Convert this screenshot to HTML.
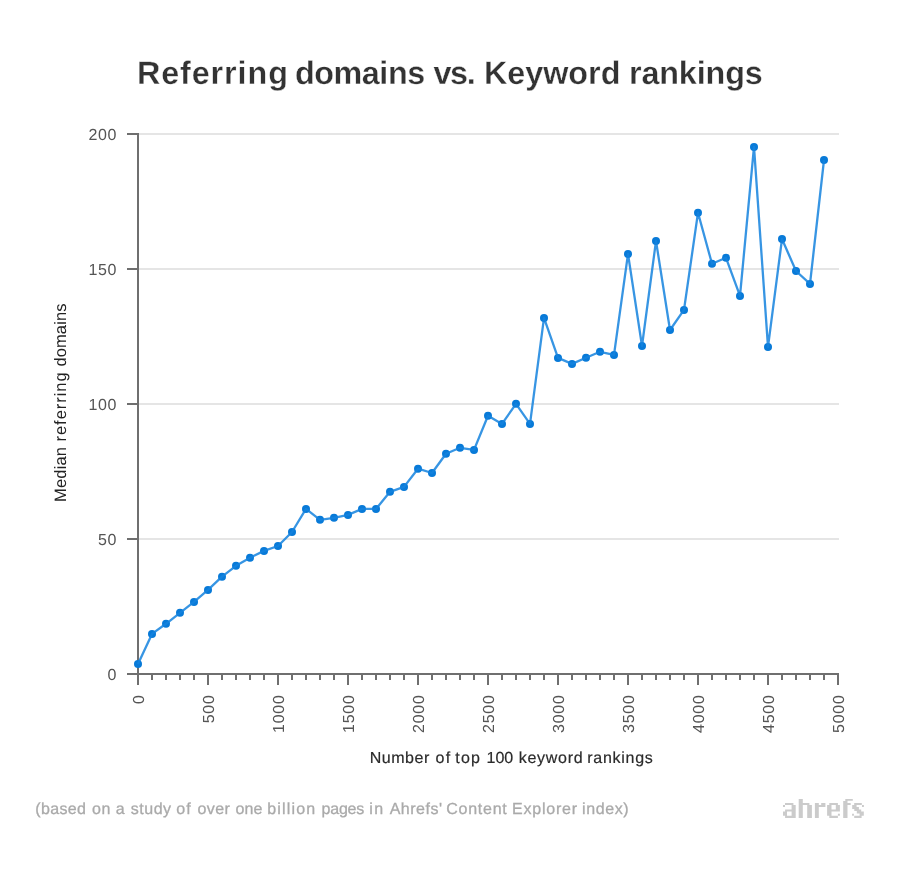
<!DOCTYPE html>
<html><head><meta charset="utf-8">
<style>
html,body{margin:0;padding:0;background:#fff;}
body{width:900px;height:878px;overflow:hidden;}
svg{display:block;will-change:transform;}
text{font-family:"Liberation Sans",sans-serif;text-rendering:geometricPrecision;}
</style></head><body>
<svg width="900" height="878" viewBox="0 0 900 878">
<rect width="900" height="878" fill="#fff"/>
<text y="84" font-size="32.3" font-weight="bold" fill="#333" stroke="#fff" stroke-width="0.3"><tspan x="136.9" letter-spacing="0.925">Referring</tspan><tspan x="294.9" letter-spacing="-0.417">domains</tspan><tspan x="433.4" letter-spacing="-1.3">vs.</tspan><tspan x="484" letter-spacing="0">Keyword</tspan><tspan x="629" letter-spacing="-0.129">rankings</tspan></text>
<g stroke="#e5e5e5" stroke-width="2">
<line x1="139" y1="134" x2="839" y2="134"/>
<line x1="139" y1="269" x2="839" y2="269"/>
<line x1="139" y1="404" x2="839" y2="404"/>
<line x1="139" y1="539" x2="839" y2="539"/>
</g>
<g stroke="#6f6f6f" stroke-width="2" fill="none">
<line x1="138" y1="133" x2="138" y2="675"/>
<line x1="127" y1="674" x2="839" y2="674"/>
<line x1="127" y1="134" x2="138" y2="134"/>
<line x1="127" y1="269" x2="138" y2="269"/>
<line x1="127" y1="404" x2="138" y2="404"/>
<line x1="127" y1="539" x2="138" y2="539"/>
<line x1="138" y1="674" x2="138" y2="685"/>
<line x1="152" y1="674" x2="152" y2="680"/>
<line x1="166" y1="674" x2="166" y2="680"/>
<line x1="180" y1="674" x2="180" y2="680"/>
<line x1="194" y1="674" x2="194" y2="680"/>
<line x1="208" y1="674" x2="208" y2="685"/>
<line x1="222" y1="674" x2="222" y2="680"/>
<line x1="236" y1="674" x2="236" y2="680"/>
<line x1="250" y1="674" x2="250" y2="680"/>
<line x1="264" y1="674" x2="264" y2="680"/>
<line x1="278" y1="674" x2="278" y2="685"/>
<line x1="292" y1="674" x2="292" y2="680"/>
<line x1="306" y1="674" x2="306" y2="680"/>
<line x1="320" y1="674" x2="320" y2="680"/>
<line x1="334" y1="674" x2="334" y2="680"/>
<line x1="348" y1="674" x2="348" y2="685"/>
<line x1="362" y1="674" x2="362" y2="680"/>
<line x1="376" y1="674" x2="376" y2="680"/>
<line x1="390" y1="674" x2="390" y2="680"/>
<line x1="404" y1="674" x2="404" y2="680"/>
<line x1="418" y1="674" x2="418" y2="685"/>
<line x1="432" y1="674" x2="432" y2="680"/>
<line x1="446" y1="674" x2="446" y2="680"/>
<line x1="460" y1="674" x2="460" y2="680"/>
<line x1="474" y1="674" x2="474" y2="680"/>
<line x1="488" y1="674" x2="488" y2="685"/>
<line x1="502" y1="674" x2="502" y2="680"/>
<line x1="516" y1="674" x2="516" y2="680"/>
<line x1="530" y1="674" x2="530" y2="680"/>
<line x1="544" y1="674" x2="544" y2="680"/>
<line x1="558" y1="674" x2="558" y2="685"/>
<line x1="572" y1="674" x2="572" y2="680"/>
<line x1="586" y1="674" x2="586" y2="680"/>
<line x1="600" y1="674" x2="600" y2="680"/>
<line x1="614" y1="674" x2="614" y2="680"/>
<line x1="628" y1="674" x2="628" y2="685"/>
<line x1="642" y1="674" x2="642" y2="680"/>
<line x1="656" y1="674" x2="656" y2="680"/>
<line x1="670" y1="674" x2="670" y2="680"/>
<line x1="684" y1="674" x2="684" y2="680"/>
<line x1="698" y1="674" x2="698" y2="685"/>
<line x1="712" y1="674" x2="712" y2="680"/>
<line x1="726" y1="674" x2="726" y2="680"/>
<line x1="740" y1="674" x2="740" y2="680"/>
<line x1="754" y1="674" x2="754" y2="680"/>
<line x1="768" y1="674" x2="768" y2="685"/>
<line x1="782" y1="674" x2="782" y2="680"/>
<line x1="796" y1="674" x2="796" y2="680"/>
<line x1="810" y1="674" x2="810" y2="680"/>
<line x1="824" y1="674" x2="824" y2="680"/>
<line x1="838" y1="674" x2="838" y2="685"/>
</g>
<g font-size="16" fill="#555" letter-spacing="0.7">
<text x="117.2" y="140.0" text-anchor="end">200</text>
<text x="117.2" y="275.0" text-anchor="end">150</text>
<text x="117.2" y="410.0" text-anchor="end">100</text>
<text x="117.2" y="545.0" text-anchor="end">50</text>
<text x="117.2" y="680.0" text-anchor="end">0</text>
<text transform="translate(144.0,694.5) rotate(-90)" text-anchor="end">0</text>
<text transform="translate(214.0,694.5) rotate(-90)" text-anchor="end">500</text>
<text transform="translate(284.0,694.5) rotate(-90)" text-anchor="end">1000</text>
<text transform="translate(354.0,694.5) rotate(-90)" text-anchor="end">1500</text>
<text transform="translate(424.0,694.5) rotate(-90)" text-anchor="end">2000</text>
<text transform="translate(494.0,694.5) rotate(-90)" text-anchor="end">2500</text>
<text transform="translate(564.0,694.5) rotate(-90)" text-anchor="end">3000</text>
<text transform="translate(634.0,694.5) rotate(-90)" text-anchor="end">3500</text>
<text transform="translate(704.0,694.5) rotate(-90)" text-anchor="end">4000</text>
<text transform="translate(774.0,694.5) rotate(-90)" text-anchor="end">4500</text>
<text transform="translate(844.0,694.5) rotate(-90)" text-anchor="end">5000</text>
</g>
<text transform="translate(66,502) rotate(-90)" font-size="16.5" fill="#222"><tspan x="0" letter-spacing="0.18">Median</tspan><tspan x="60.5" letter-spacing="0.96">referring</tspan><tspan x="135.4" letter-spacing="0.12">domains</tspan></text>
<text y="763" font-size="16" fill="#2b2b2b" stroke="#2b2b2b" stroke-width="0.2"><tspan x="369.8" letter-spacing="0.5">Number</tspan><tspan x="435.4" letter-spacing="1.5">of</tspan><tspan x="455.3" letter-spacing="1.2">top</tspan><tspan x="486.5" letter-spacing="0">100</tspan><tspan x="518.7" letter-spacing="0.72">keyword</tspan><tspan x="587.3" letter-spacing="0.72">rankings</tspan></text>
<g fill="#087ad8">
<circle cx="138" cy="663.9" r="4"/>
<circle cx="152" cy="633.9" r="4"/>
<circle cx="166" cy="623.8" r="4"/>
<circle cx="180" cy="612.8" r="4"/>
<circle cx="194" cy="601.9" r="4"/>
<circle cx="208" cy="589.9" r="4"/>
<circle cx="222" cy="576.7" r="4"/>
<circle cx="236" cy="565.8" r="4"/>
<circle cx="250" cy="557.8" r="4"/>
<circle cx="264" cy="550.9" r="4"/>
<circle cx="278" cy="546.0" r="4"/>
<circle cx="292" cy="532.0" r="4"/>
<circle cx="306" cy="508.9" r="4"/>
<circle cx="320" cy="519.8" r="4"/>
<circle cx="334" cy="517.8" r="4"/>
<circle cx="348" cy="514.9" r="4"/>
<circle cx="362" cy="508.9" r="4"/>
<circle cx="376" cy="508.9" r="4"/>
<circle cx="390" cy="491.8" r="4"/>
<circle cx="404" cy="486.9" r="4"/>
<circle cx="418" cy="468.7" r="4"/>
<circle cx="432" cy="473.0" r="4"/>
<circle cx="446" cy="453.8" r="4"/>
<circle cx="460" cy="447.8" r="4"/>
<circle cx="474" cy="449.9" r="4"/>
<circle cx="488" cy="415.7" r="4"/>
<circle cx="502" cy="423.9" r="4"/>
<circle cx="516" cy="403.8" r="4"/>
<circle cx="530" cy="423.9" r="4"/>
<circle cx="544" cy="317.9" r="4"/>
<circle cx="558" cy="357.9" r="4"/>
<circle cx="572" cy="363.9" r="4"/>
<circle cx="586" cy="357.8" r="4"/>
<circle cx="600" cy="351.8" r="4"/>
<circle cx="614" cy="354.9" r="4"/>
<circle cx="628" cy="253.9" r="4"/>
<circle cx="642" cy="346.0" r="4"/>
<circle cx="656" cy="240.9" r="4"/>
<circle cx="670" cy="330.0" r="4"/>
<circle cx="684" cy="309.9" r="4"/>
<circle cx="698" cy="212.7" r="4"/>
<circle cx="712" cy="263.8" r="4"/>
<circle cx="726" cy="257.8" r="4"/>
<circle cx="740" cy="295.9" r="4"/>
<circle cx="754" cy="146.9" r="4"/>
<circle cx="768" cy="346.9" r="4"/>
<circle cx="782" cy="239.0" r="4"/>
<circle cx="796" cy="271.0" r="4"/>
<circle cx="810" cy="283.9" r="4"/>
<circle cx="824" cy="160.0" r="4"/>
</g>
<path d="M138,663.9 L152,633.9 L166,623.8 L180,612.8 L194,601.9 L208,589.9 L222,576.7 L236,565.8 L250,557.8 L264,550.9 L278,546.0 L292,532.0 L306,508.9 L320,519.8 L334,517.8 L348,514.9 L362,508.9 L376,508.9 L390,491.8 L404,486.9 L418,468.7 L432,473.0 L446,453.8 L460,447.8 L474,449.9 L488,415.7 L502,423.9 L516,403.8 L530,423.9 L544,317.9 L558,357.9 L572,363.9 L586,357.8 L600,351.8 L614,354.9 L628,253.9 L642,346.0 L656,240.9 L670,330.0 L684,309.9 L698,212.7 L712,263.8 L726,257.8 L740,295.9 L754,146.9 L768,346.9 L782,239.0 L796,271.0 L810,283.9 L824,160.0" fill="none" stroke="#1482de" stroke-opacity="0.85" stroke-width="2.3" stroke-linejoin="round"/>
<text y="814" font-size="16" fill="#aaa" stroke="#aaa" stroke-width="0.3"><tspan x="35.3" letter-spacing="0.34">(based</tspan><tspan x="92" letter-spacing="0.7">on</tspan><tspan x="115.8" letter-spacing="0">a</tspan><tspan x="130.8" letter-spacing="0.5">study</tspan><tspan x="176.3" letter-spacing="1.0">of</tspan><tspan x="197.5" letter-spacing="0.4">over</tspan><tspan x="235.5" letter-spacing="0.1">one</tspan><tspan x="267.3" letter-spacing="1.15">billion</tspan><tspan x="321.5" letter-spacing="-0.2">pages</tspan><tspan x="369.3" letter-spacing="1.5">in</tspan><tspan x="389.7" letter-spacing="0.5">Ahrefs'</tspan><tspan x="446.3" letter-spacing="0.733">Content</tspan><tspan x="512" letter-spacing="0.786">Explorer</tspan><tspan x="582" letter-spacing="0.6">index)</tspan></text>
<path fill="#cbcbcb" d="M783.0,805.1H785.0V807.1H783.0ZM785.0,803.1H793.4V805.0H785.0ZM791.6,805.0H795.7V817.9H791.6ZM785.1,809.4H792V811.5H785.1ZM783.0,811.5H785.1V815.8H783.0ZM785.1,809.4H787.0V817.9H785.1ZM785.1,815.8H795.7V817.9H785.1ZM798.7,798.9H802.8V817.9H798.7ZM802.8,803.1H809.4V805.0H802.8ZM807.2,805.0H811.9V817.9H807.2ZM814.9,803.1H818.8V817.9H814.9ZM818.8,805.0H825.4V806.9H818.8ZM821.2,803.1H825.4V805.0H821.2ZM827.1,805.0H829.3V815.8H827.1ZM829.3,803.1H831.5V817.9H829.3ZM829.3,803.1H837.9V805.0H829.3ZM835.8,805.0H839.9V811.6H835.8ZM831.5,809.6H839.9V811.6H831.5ZM829.3,815.8H837.9V817.9H829.3ZM837.9,813.8H839.9V815.8H837.9ZM843.2,801.0H847.5V817.9H843.2ZM845.3,798.9H852.8V800.8H845.3ZM845.3,800.8H847.5V801.0H845.3ZM847.5,803.1H850.7V805.0H847.5ZM854.2,803.1H861.8V805.0H854.2ZM862.0,805.0H863.9V806.9H862.0ZM852.2,805.0H856.6V809.0H852.2ZM854.3,807.0H858.9V811.0H854.3ZM856.8,809.6H861.2V813.5H856.8ZM859.6,811.6H863.8V815.8H859.6ZM852.1,813.7H853.9V815.7H852.1ZM854.2,815.8H861.6V817.9H854.2Z"/>
</svg>
</body></html>
